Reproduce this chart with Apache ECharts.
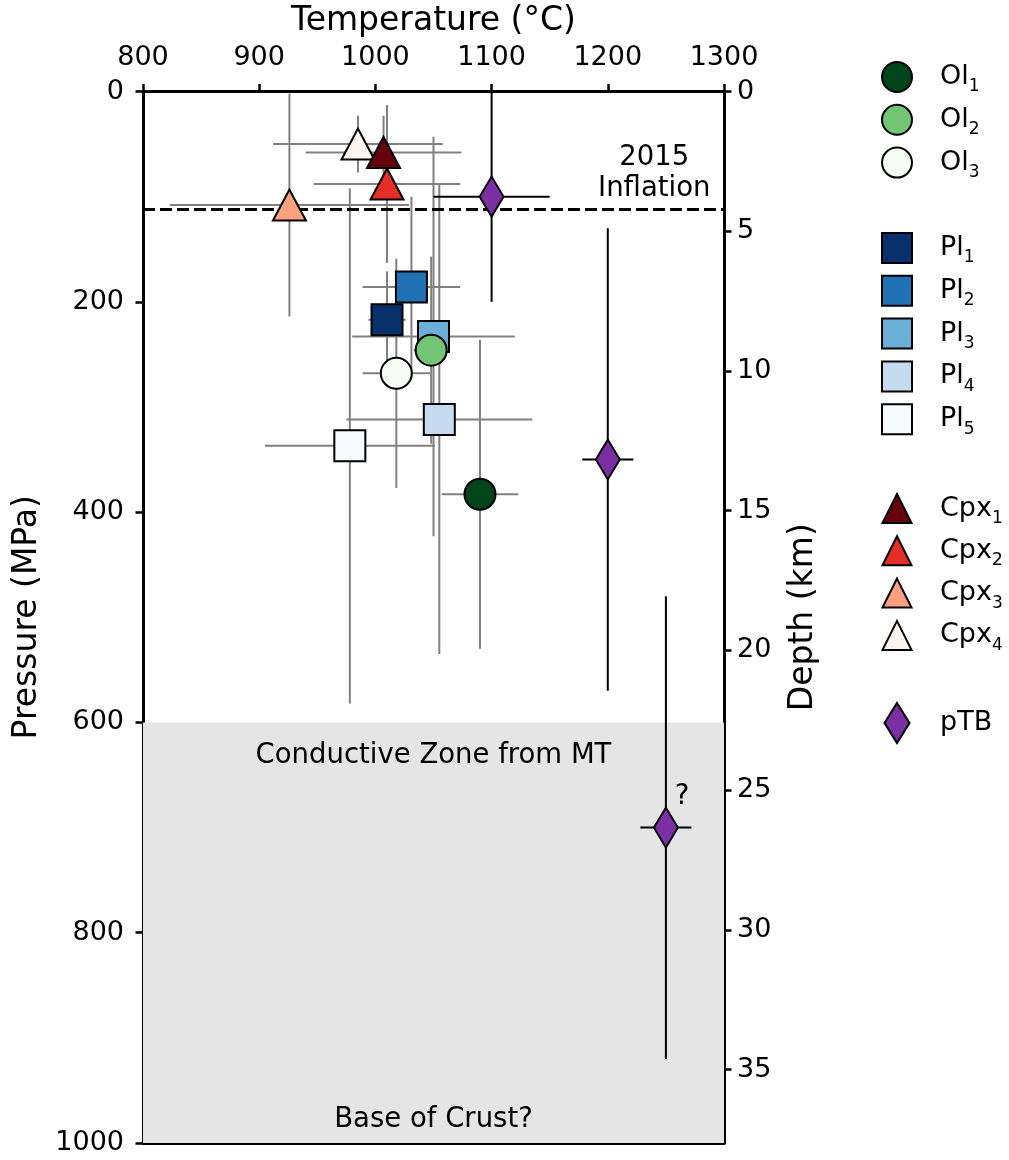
<!DOCTYPE html>
<html>
<head>
<meta charset="utf-8">
<script src="https://cdn.jsdelivr.net/npm/echarts@6/dist/echarts.min.js"></script>
<style>
  html, body { margin: 0; padding: 0; background: #fff; }
  #main { width: 1009px; height: 1160px; }
</style>
</head>
<body>
<div id="main"></div>
<script>
// values (T in °C, P in MPa, errors are +/-)
const olNames = ['Ol1', 'Ol2', 'Ol3']
const olT = [1090, 1048, 1018]
const olP = [383, 246, 268]
const olTErr = [33, 15, 29]
const olPErr = [147, 89, 109]
const olColors = ['#00441b', '#74c476', '#f7fcf5']

const plNames = ['Pl1', 'Pl2', 'Pl3', 'Pl4', 'Pl5']
const plT = [1010, 1031, 1050, 1055, 978]
const plP = [217, 186, 233, 312, 337]
const plTErr = [16, 42, 70, 80, 73]
const plPErr = [46, 86, 190, 223, 245]
const plColors = ['#08306b', '#2171b5', '#6baed6', '#c6dbef', '#f7fbff']

const cpxNames = ['Cpx1', 'Cpx2', 'Cpx3', 'Cpx4']
const cpxT = [1007, 1010, 926, 985]
const cpxP = [58, 88, 108, 50]
const cpxTErr = [67, 63, 103, 73]
const cpxPErr = [35, 75, 106, 27]
const cpxColors = ['#67000d', '#e32f27', '#fca082', '#fff5f0']

const ptbT = [1100, 1200, 1250]
const ptbP = [100, 350, 700]
const ptbTErr = [50, 22, 22]
const ptbPErr = [100, 220, 220]

const xTicks = [800, 900, 1000, 1100, 1200, 1300]
const pTicks = [0, 200, 400, 600, 800, 1000]
const depthTicks = [0, 5, 10, 15, 20, 25, 30, 35]
const mpaPerKm = 26.58

const inflationP = 112
const mtZone = [600, 1000]
const noteT = [1050, 1050, 1240, 1264]
const noteP = [632, 978, 78, 671]
const noteText = ['Conductive Zone from MT', 'Base of Crust?', '2015\nInflation', '?']

const FONT = 'DejaVu Sans'
const chart = echarts.init(document.getElementById('main'), null, { renderer: 'canvas' })

function errBar (color) {
  return function (params, api) {
    const t = api.value(0), p = api.value(1), te = api.value(2), pe = api.value(3)
    const a = api.coord([t - te, p]), b = api.coord([t + te, p])
    const c = api.coord([t, p - pe]), d = api.coord([t, p + pe])
    const st = { stroke: color, lineWidth: 2 }
    return {
      type: 'group',
      children: [
        { type: 'line', shape: { x1: a[0], y1: a[1], x2: b[0], y2: b[1] }, style: st },
        { type: 'line', shape: { x1: c[0], y1: c[1], x2: d[0], y2: d[1] }, style: st }
      ]
    }
  }
}

const groups = [
  { names: plNames, T: plT, P: plP, Te: plTErr, Pe: plPErr, colors: plColors, symbol: 'rect', size: 31 },
  { names: cpxNames, T: cpxT, P: cpxP, Te: cpxTErr, Pe: cpxPErr, colors: cpxColors, symbol: 'triangle', size: [33, 31] },
  { names: olNames, T: olT, P: olP, Te: olTErr, Pe: olPErr, colors: olColors, symbol: 'circle', size: 31 }
]

const errData = []
const series = []
groups.forEach(g => {
  g.names.forEach((n, i) => errData.push([g.T[i], g.P[i], g.Te[i], g.Pe[i]]))
})

// gray error bars + shaded MT zone + inflation line
series.push({
  type: 'custom',
  name: 'err',
  z: 2,
  renderItem: errBar('#808080'),
  encode: { x: 0, y: 1 },
  data: errData,
  markArea: {
    silent: true,
    itemStyle: { color: '#e5e5e5' },
    data: [[{ yAxis: mtZone[0] }, { yAxis: mtZone[1] }]]
  },
  markLine: {
    silent: true,
    symbol: 'none',
    label: { show: false },
    lineStyle: { color: '#000', width: 3, type: [12, 5] },
    data: [{ yAxis: inflationP }]
  }
})

series.push({
  type: 'custom',
  name: 'errTB',
  z: 3,
  renderItem: errBar('#000'),
  encode: { x: 0, y: 1 },
  data: ptbT.map((t, i) => [t, ptbP[i], ptbTErr[i], ptbPErr[i]])
})

groups.forEach(g => {
  // later names first so index 1 ends up on top
  g.names.slice().reverse().forEach(n => {
    const i = g.names.indexOf(n)
    series.push({
      type: 'scatter',
      name: n,
      z: 5,
      symbol: g.symbol,
      symbolSize: g.size,
      itemStyle: { color: g.colors[i], borderColor: '#000', borderWidth: 2, opacity: 1 },
      data: [[g.T[i], g.P[i]]]
    })
  })
})

series.push({
  type: 'scatter',
  name: 'pTB',
  z: 6,
  symbol: 'diamond',
  symbolSize: [24, 40],
  itemStyle: { color: '#7a30a3', borderColor: '#000', borderWidth: 2, opacity: 1 },
  data: ptbT.map((t, i) => [t, ptbP[i]])
})

series.push({
  type: 'scatter',
  name: 'notes',
  z: 7,
  silent: true,
  symbolSize: 0,
  itemStyle: { opacity: 1 },
  label: {
    show: true,
    position: 'inside',
    formatter: p => p.data[2],
    color: '#000',
    fontFamily: FONT,
    fontSize: 27.5,
    lineHeight: 31
  },
  data: noteT.map((t, i) => [t, noteP[i], noteText[i]])
})

function subFmt (n) {
  const m = n.match(/^([A-Za-z]+)(\d)$/)
  return m ? '{a|' + m[1] + '}{s|' + m[2] + '}' : '{a|' + n + '}'
}

function legendText (pad) {
  return {
    color: '#000',
    fontFamily: FONT,
    fontSize: 27,
    rich: {
      a: { fontFamily: FONT, fontSize: 27, padding: [0, 0, 0, pad], color: '#000' },
      s: { fontFamily: FONT, fontSize: 17, padding: [20, 0, 0, 0], color: '#000' }
    }
  }
}
function mkLegend (names, top, left, w, h, pad, extra) {
  return Object.assign({
    orient: 'vertical',
    left: left,
    top: top,
    itemWidth: w,
    itemHeight: h,
    itemGap: 8.3,
    data: names,
    formatter: subFmt,
    textStyle: legendText(pad),
    itemStyle: { borderColor: 'inherit', borderWidth: 2 },
    selectedMode: false
  }, extra || {})
}

const axisLineStyle = { color: '#000', width: 3 }
const tickStyle = { length: 7.5, lineStyle: { color: '#000', width: 2.5 } }
const tickLabel = { color: '#000', fontFamily: FONT, fontSize: 27, formatter: v => String(v) }
const nameStyle = { color: '#000', fontFamily: FONT, fontSize: 33 }

chart.setOption({
  animation: false,
  backgroundColor: '#fff',
  grid: { left: 143, right: 285, top: 90, bottom: 17 },
  legend: [
    mkLegend(olNames, 56, 876, 30, 30, 23),
    mkLegend(plNames, 227, 876, 30, 30, 23),
    mkLegend(cpxNames, 488, 876.5, 29, 29, 23.5),
    mkLegend(['pTB'], 697, 878.5, 25, 40, 25.5, { symbolKeepAspect: false })
  ],
  xAxis: [
    {
      type: 'value', position: 'top', min: xTicks[0], max: xTicks[xTicks.length - 1], interval: 100,
      name: 'Temperature (°C)', nameLocation: 'middle', nameGap: 53.5, nameTextStyle: nameStyle,
      axisLine: { onZero: false, lineStyle: axisLineStyle }, axisTick: tickStyle,
      axisLabel: Object.assign({ margin: 20 }, tickLabel), splitLine: { show: false }
    },
    {
      type: 'value', position: 'bottom', min: xTicks[0], max: xTicks[xTicks.length - 1],
      axisLine: { onZero: false, lineStyle: axisLineStyle }, axisTick: { show: false },
      axisLabel: { show: false }, splitLine: { show: false }
    }
  ],
  yAxis: [
    {
      type: 'value', position: 'left', inverse: true, min: pTicks[0], max: pTicks[pTicks.length - 1], interval: 200,
      name: 'Pressure (MPa)', nameLocation: 'middle', nameGap: 99.5, nameRotate: 90, nameTextStyle: nameStyle,
      axisLine: { onZero: false, lineStyle: axisLineStyle }, axisTick: tickStyle,
      axisLabel: Object.assign({ margin: 19 }, tickLabel), splitLine: { show: false }
    },
    {
      type: 'value', position: 'right', inverse: true, min: 0, max: pTicks[pTicks.length - 1] / mpaPerKm, interval: 5,
      name: 'Depth (km)', nameLocation: 'middle', nameGap: 62.5, nameRotate: 90, nameTextStyle: nameStyle,
      axisLine: { onZero: false, lineStyle: axisLineStyle },
      axisTick: Object.assign({ customValues: depthTicks }, tickStyle),
      axisLabel: Object.assign({ margin: 13, customValues: depthTicks }, tickLabel),
      splitLine: { show: false }
    }
  ],
  series: series
})
</script>
</body>
</html>
